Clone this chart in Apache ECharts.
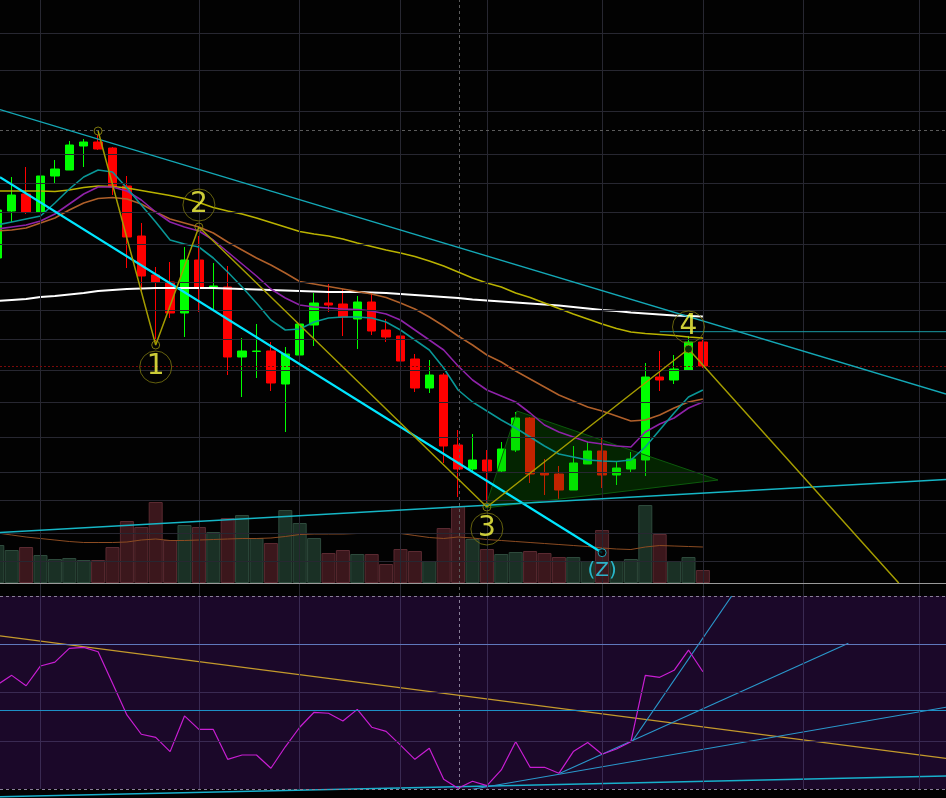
<!DOCTYPE html>
<html><head><meta charset="utf-8">
<script src="https://cdn.jsdelivr.net/npm/echarts/dist/echarts.min.js"></script>
<style>html,body{margin:0;padding:0;background:#000;}#c{width:946px;height:798px;}</style>
</head><body><div id="c"></div>
<script>
// ---- axis window (slot index = trading day position) ----
const xMin = -0.8125, xMax = 64.882;

// ---- price candles ----
const slots = [-1,0,1,2,3,4,5,6,7,8,9,10,11,12,13,14,15,16,17,18,19,20,21,22,23,24,25,26,27,28,29,30,31,32,33,34,35,36,37,38,39,40,41,42,43,44,45,46,47,48];
const opens  = [34.2,38.9,40.6,38.8,42.4,43.0,45.4,45.8,45.2,41.4, 36.4,32.5,31.8,28.7,34.0,31.3,31.3,24.3,24.85,24.9, 21.6,24.5,27.5,29.7,29.6,28.1,29.8,27.0,26.4,24.1, 21.2,22.5,15.5,13.1,14.0,12.9,15.0,18.2,12.7,12.6, 11.0,13.6,14.9,12.5,13.1,14.0,22.3,22.0,23.0,25.8];
const closes = [39.0,40.5,38.8,42.4,43.1,45.5,45.8,45.1,41.3,36.3, 32.4,31.8,28.7,34.0,31.3,31.4,24.3,24.9,24.9,21.7, 24.6,27.6,29.7,29.5,28.3,29.8,26.9,26.3,23.9,21.2, 22.5,15.4,13.1,14.0,12.9,15.1,18.2,12.6,12.5,11.0, 13.7,14.9,12.5,13.2,14.1,22.3,22.0,23.1,25.8,23.4];
const lows   = [33.8,37.8,38.6,38.3,41.7,43.0,43.3,45.0,40.5,33.2, 30.7,25.9,28.2,26.3,28.8,29.0,22.5,20.3,22.2,20.9, 16.8,23.7,25.4,28.8,26.4,25.1,26.5,25.8,21.7,20.8, 20.7,13.7,10.3,12.8,9.5,12.7,14.8,11.7,10.5,10.1, 11.0,13.6,11.2,11.5,12.8,12.4,20.9,21.6,23.0,23.2];
const highs  = [39.5,42.3,43.3,43.5,44.0,45.9,46.1,46.5,45.3,42.4, 37.7,33.3,33.8,35.3,36.4,33.7,33.4,26.2,27.6,25.8, 25.3,28.4,30.7,31.6,31.1,30.4,30.8,28.1,26.8,24.6, 24.0,22.7,17.0,16.6,15.0,15.8,18.8,18.3,14.1,13.4, 15.4,15.8,16.3,13.8,14.8,23.7,24.9,24.5,26.4,26.2];

// ---- moving averages ----
const maWhite  = [29.9,30.0,30.1,30.3,30.4,30.55,30.7,30.9,31.0,31.1,31.15,31.2,31.2,31.2,31.2,31.2,31.15,31.1,31.05,31.0,30.95,30.9,30.85,30.8,30.8,30.8,30.75,30.7,30.6,30.5,30.4,30.3,30.2,30.05,29.95,29.85,29.75,29.65,29.55,29.45,29.3,29.15,29.0,28.9,28.75,28.65,28.55,28.45,28.4,28.35];
const maYellow = [40.9,40.9,40.9,40.9,40.85,41.0,41.25,41.4,41.35,41.2,40.95,40.7,40.45,40.15,39.75,39.25,38.9,38.6,38.2,37.75,37.3,36.85,36.6,36.4,36.1,35.7,35.35,35.0,34.7,34.35,33.9,33.4,32.8,32.2,31.7,31.3,30.7,30.25,29.7,29.15,28.6,28.1,27.6,27.15,26.8,26.65,26.55,26.45,26.3,26.2];
const maBrown  = [36.9,37.0,37.2,37.7,38.2,39.0,39.7,40.15,40.25,40.1,39.6,38.8,38.1,37.7,37.3,36.7,35.8,35.0,34.2,33.5,32.7,31.85,31.6,31.35,31.1,30.85,30.6,30.25,29.7,29.1,28.3,27.4,26.4,25.5,24.5,23.8,22.9,22.1,21.3,20.5,19.9,19.3,18.9,18.4,17.9,18.0,18.5,19.2,19.8,20.1];
const maPurple = [37.1,37.3,37.5,37.9,38.6,39.6,40.6,41.3,41.3,40.9,40.0,38.8,37.8,37.3,36.9,36.0,34.8,33.6,32.4,31.1,30.2,29.5,29.3,29.2,29.1,29.05,28.9,28.6,28.0,27.0,26.0,25.0,23.4,22.0,21.0,20.4,19.8,18.7,17.5,16.8,16.3,15.8,15.6,15.4,15.3,16.8,17.6,18.2,19.2,19.8];
const maTeal   = [37.5,37.8,38.1,38.4,39.7,41.1,42.3,43.0,42.8,41.2,39.5,37.8,36.0,35.6,35.3,34.2,32.8,31.3,29.7,28.0,27.0,27.1,27.8,28.2,28.3,28.3,28.2,27.8,27.0,26.0,25.0,23.2,21.0,19.8,18.9,18.0,17.2,16.3,15.4,14.6,14.3,14.0,13.9,13.85,14.0,15.3,17.0,18.7,20.3,21.0];

// ---- volume (millions) ----
const volumes  = [3.8,3.3,3.6,2.8,2.4,2.5,2.3,2.3,3.6,6.2,5.6,8.1,4.3,5.8,5.6,5.1,6.5,6.8,4.5,4.0,7.3,6.0,4.5,3.0,3.3,2.9,2.9,1.9,3.4,3.2,2.2,5.5,7.7,4.4,3.4,2.9,3.1,3.2,3.0,2.6,2.6,2.2,5.3,2.2,2.4,7.8,4.9,2.2,2.6,1.3];
const volumeMA = [5.0,4.8,4.6,4.45,4.3,4.15,4.05,4.05,4.05,4.1,4.3,4.4,4.25,4.25,4.3,4.35,4.4,4.45,4.45,4.5,4.65,4.85,4.9,4.9,4.9,4.95,4.95,4.95,4.95,4.75,4.55,4.45,4.6,4.5,4.35,4.25,4.15,4.05,3.95,3.85,3.75,3.65,3.5,3.4,3.35,3.6,3.75,3.7,3.65,3.6];

// ---- oscillator ----
const rsi = [53.2,57.1,52.8,61.0,62.6,68.3,68.7,66.9,53.8,40.7,32.7,31.4,25.5,40.3,34.7,34.7,22.3,24.1,24.1,18.6,27.5,35.6,41.8,41.4,38.2,43.0,35.6,33.9,28.2,22.3,26.9,14.0,10.3,13.2,11.4,17.9,29.6,19.0,19.0,16.5,25.5,29.3,24.4,26.6,29.6,57.1,56.3,59.2,67.6,58.6];
const rsiLevels = [70, 42.7];
const rsiGrid = [30, 50];
const rsiBounds = [10, 90];

// ---- grid / reference levels ----
const gridSlots = [2,13,20,27,33,41,48,55,63];
const cursorSlot = 31.1;
const priceGridLevels = [56.7,53.0,48.9,44.6,41.7,38.8,35.6,31.8,29.0,26.1,23.0,19.8,16.3,12.8,10.0,6.7,3.9];
const highMarkLevel = 47.0;

// ---- drawings (slot, price) ----
const zigzagSlots  = [6, 10, 13, 33, 47, 61.6];
const zigzagPrices = [46.9, 25.5, 37.3, 9.3, 25.1, 1.7];
const waveNames = ['1','2','3','4'];
const channelUpper = [[xMin, 49.04],[xMax, 20.6]];
const channelCyan  = [[xMin, 42.27],[41.0, 4.73]];
const channelLower = [[xMin, 6.75],[xMax, 12.05]];
const resistance   = [[45, 26.83],[xMax, 26.83]];
const triangleSlots  = [32.87, 35.09, 49.05];
const trianglePrices = [9.2, 18.9, 12.0];
const zPoint = [41.0, 4.73];
// oscillator drawings (slot, value)
const oscDown = [[xMin, 73.5],[xMax, 22.7]];
const oscBase = [[xMin, 6.8],[xMax, 15.4]];
const oscFan1 = [[32.0, 9.9],[xMax, 43.9]];
const oscFan2 = [[38.07, 16.5],[58.1, 70.4]];
const oscFan3 = [[43.07, 29.6],[50.0, 90]];

const pair = (xs, ys) => xs.map((x, i) => [x, ys[i]]);
const up = slots.map((s, i) => closes[i] >= opens[i]);
const lastClose = closes[closes.length - 1];

const chart = echarts.init(document.getElementById('c'));
const ml = (data, color, type, width) => ({
  silent: true, symbol: 'none', animation: false, label: {show: false},
  lineStyle: {color: color, type: type || 'solid', width: width || 1},
  emphasis: {disabled: true}, data: data
});
const lineS = (name, data, color, width, z, extra) => Object.assign({
  type: 'line', name: name, data: data, symbol: 'none', silent: true, animation: false,
  lineStyle: {color: color, width: width}, z: z, xAxisIndex: 0, yAxisIndex: 0
}, extra || {});

const series = [
  // main grid lines
  {type: 'line', data: [], xAxisIndex: 0, yAxisIndex: 0, z: 2, silent: true,
   markLine: ml(priceGridLevels.map(v => ({yAxis: v})).concat(gridSlots.map(v => ({xAxis: v}))), '#272731')},
  {type: 'line', data: [], xAxisIndex: 0, yAxisIndex: 0, z: 2, silent: true,
   markLine: ml([{xAxis: cursorSlot}, {yAxis: highMarkLevel}], '#5c5c5c', [3, 3])},
  {type: 'line', data: [], xAxisIndex: 0, yAxisIndex: 0, z: 2, silent: true,
   markLine: ml([{yAxis: lastClose}], '#7a0a0a', [2, 2])},
  // volume
  {type: 'bar', xAxisIndex: 0, yAxisIndex: 1, barWidth: 14, z: 1, silent: true, animation: false,
   data: slots.map((s, i) => ({value: [s, volumes[i]],
     itemStyle: up[i] ? {color: '#1a3025', borderColor: '#2e4a3c', borderWidth: 1}
                      : {color: '#3b171c', borderColor: '#5a2a31', borderWidth: 1}}))},
  lineS('volMA', pair(slots, volumeMA), '#8c4c22', 1, 2.5, {yAxisIndex: 1}),
  {type: 'line', data: [], xAxisIndex: 0, yAxisIndex: 1, z: 3, silent: true,
   markLine: ml([{yAxis: 0}], '#9a9a9a')},
  // candles
  {type: 'candlestick', xAxisIndex: 0, yAxisIndex: 0, barWidth: 9, z: 3, silent: true, animation: false,
   itemStyle: {color: '#00ff00', color0: '#ff0000', borderColor: '#00ff00', borderColor0: '#ff0000', borderWidth: 1},
   data: slots.map((s, i) => [s, opens[i], closes[i], lows[i], highs[i]])},
  // triangle
  {type: 'custom', xAxisIndex: 0, yAxisIndex: 0, z: 3.5, silent: true, animation: false,
   data: [[triangleSlots[0], trianglePrices[0]]],
   renderItem: (params, api) => ({type: 'polygon',
     shape: {points: triangleSlots.map((s, i) => api.coord([s, trianglePrices[i]]))},
     style: {fill: 'rgba(10,140,0,0.25)', stroke: '#0c5a0c', lineWidth: 1}})},
  // moving averages
  lineS('ma1', pair(slots, maWhite), '#ffffff', 2, 4),
  lineS('ma2', pair(slots, maYellow), '#b9b200', 1.6, 4),
  lineS('ma3', pair(slots, maBrown), '#b0602a', 1.6, 4),
  lineS('ma4', pair(slots, maPurple), '#8e22a8', 1.6, 4),
  lineS('ma5', pair(slots, maTeal), '#0a9696', 1.6, 4),
  // trend drawings
  lineS('chanU', channelUpper, '#14a8b6', 1.4, 5),
  lineS('chanC', channelCyan, '#00e6ff', 2.2, 5),
  lineS('chanL', channelLower, '#16b6c6', 1.4, 5),
  lineS('res', resistance, '#1a9aa4', 1, 5),
  lineS('zig', pair(zigzagSlots, zigzagPrices), '#a39b00', 1.5, 5),
  // pivot points
  {type: 'scatter', xAxisIndex: 0, yAxisIndex: 0, z: 6, silent: true, animation: false, symbolSize: 8,
   data: zigzagSlots.slice(0, 5).map((s, i) => ({value: [s, zigzagPrices[i]],
     itemStyle: {color: i === 4 ? '#000' : 'rgba(0,0,0,0)', borderColor: '#9a9210', borderWidth: 1}}))},
  // wave labels
  {type: 'scatter', xAxisIndex: 0, yAxisIndex: 0, z: 6, silent: true, animation: false, symbolSize: 32,
   itemStyle: {color: 'rgba(0,0,0,0)', borderColor: '#7d7810', borderWidth: 1},
   label: {show: true, position: 'inside', color: '#ffff45', fontSize: 28, fontFamily: 'DejaVu Sans'},
   data: waveNames.map((n, i) => ({value: [zigzagSlots[i + 1], zigzagPrices[i + 1]],
     symbolOffset: [0, i % 2 === 0 ? 22 : -22], label: {formatter: n}}))},
  // Z point
  {type: 'scatter', xAxisIndex: 0, yAxisIndex: 0, z: 6, silent: true, animation: false, symbolSize: 8,
   itemStyle: {color: '#000', borderColor: '#20c8e0', borderWidth: 1},
   label: {show: true, position: 'bottom', distance: 4, formatter: '(Z)', color: '#2cd8f2', fontSize: 20, fontFamily: 'DejaVu Sans'},
   data: [zPoint]},

  // ---- oscillator panel ----
  {type: 'line', data: [], xAxisIndex: 1, yAxisIndex: 2, z: 2, silent: true,
   markLine: ml(rsiGrid.map(v => ({yAxis: v})).concat(gridSlots.map(v => ({xAxis: v}))), '#3a2a52')},
  {type: 'line', data: [], xAxisIndex: 1, yAxisIndex: 2, z: 2, silent: true,
   markLine: ml(rsiBounds.map(v => ({yAxis: v})).concat([{xAxis: cursorSlot}]), '#8a7f98', [3, 3])},
  {type: 'line', data: [], xAxisIndex: 1, yAxisIndex: 2, z: 2, silent: true,
   markLine: ml([{yAxis: rsiLevels[0]}], '#5f78bc', 'solid', 1.2)},
  {type: 'line', data: [], xAxisIndex: 1, yAxisIndex: 2, z: 2, silent: true,
   markLine: ml([{yAxis: rsiLevels[1]}], '#1e90c6', 'solid', 1.2)},
  lineS('oscDown', oscDown, '#c49a2c', 1.3, 3, {xAxisIndex: 1, yAxisIndex: 2}),
  lineS('oscBase', oscBase, '#18b0cc', 1.5, 3, {xAxisIndex: 1, yAxisIndex: 2, clip: false}),
  lineS('fan1', oscFan1, '#2a98cc', 1.2, 3, {xAxisIndex: 1, yAxisIndex: 2}),
  lineS('fan2', oscFan2, '#2a98cc', 1.2, 3, {xAxisIndex: 1, yAxisIndex: 2}),
  lineS('fan3', oscFan3, '#2a98cc', 1.2, 3, {xAxisIndex: 1, yAxisIndex: 2}),
  lineS('rsi', pair(slots, rsi), '#c81ed2', 1.2, 4, {xAxisIndex: 1, yAxisIndex: 2})
];

chart.setOption({
  backgroundColor: '#020202',
  animation: false,
  grid: [
    {left: 0, right: 0, top: 0, height: 596, show: false},
    {left: 0, right: 0, top: 596, height: 193, show: true, backgroundColor: '#1b0829', borderWidth: 0}
  ],
  xAxis: [
    {type: 'value', gridIndex: 0, min: xMin, max: xMax, show: false},
    {type: 'value', gridIndex: 1, min: xMin, max: xMax, show: false}
  ],
  yAxis: [
    {type: 'value', gridIndex: 0, min: 0.4, max: 60, show: false},
    {type: 'value', gridIndex: 0, min: -1.3, max: 58.3, show: false},
    {type: 'value', gridIndex: 1, min: 10, max: 90, show: false}
  ],
  series: series
});
</script>
</body></html>
